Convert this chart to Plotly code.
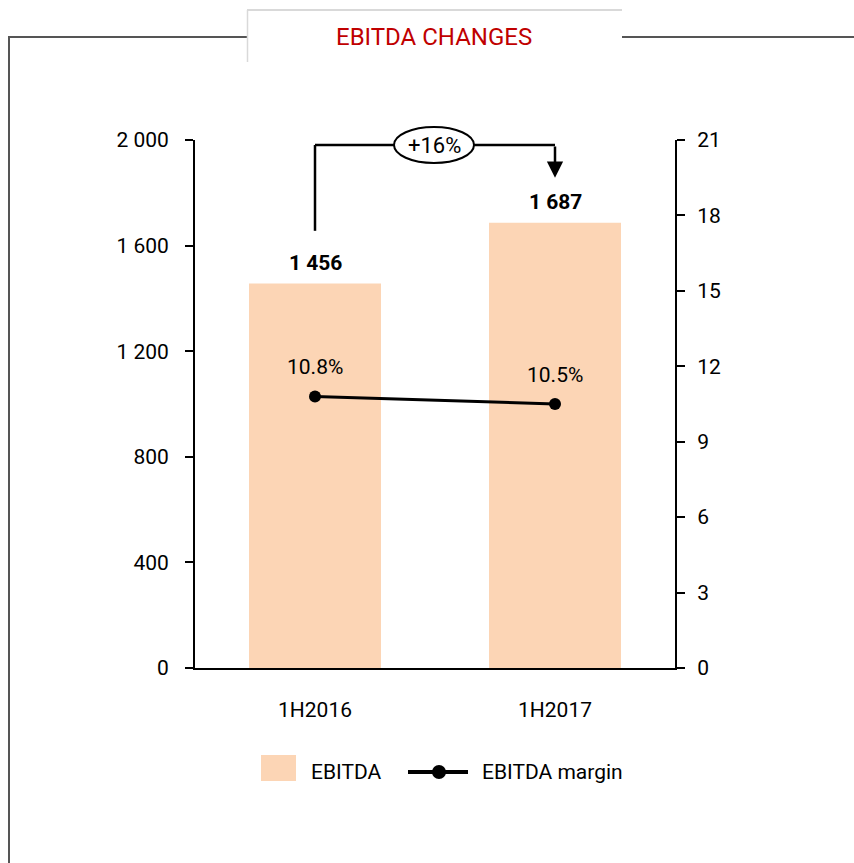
import plotly.graph_objects as go

categories = ["1H2016", "1H2017"]
ebitda = [1456, 1687]
margin = [10.8, 10.5]
change_label = "+16%"
bar_labels = ["1 456", "1 687"]
margin_labels = ["10.8%", "10.5%"]
series_names = ["EBITDA", "EBITDA margin"]
title_text = "EBITDA CHANGES"

FONT = "Roboto, Liberation Sans, sans-serif"
BAR_COLOR = "#fcd5b5"

# figure geometry (pixels)
W, H = 854, 863
L, R, T, B = 195, 179, 140, 195
PW, PH = W - L - R, H - T - B


def px(wx):
    return (wx - L) / PW


def py(wy):
    return (H - B - wy) / PH


fig = go.Figure()
fig.add_trace(go.Bar(
    x=categories, y=ebitda, name=series_names[0],
    marker=dict(color=BAR_COLOR, line=dict(width=0)),
    width=0.55, showlegend=False,
))
fig.add_trace(go.Scatter(
    x=categories, y=margin, name=series_names[1], yaxis="y2",
    mode="lines+markers",
    line=dict(color="black", width=3),
    marker=dict(color="black", size=12),
    showlegend=False,
))

annotations = []
for c, v, t in zip(categories, ebitda, bar_labels):
    annotations.append(dict(x=c, y=v, xref="x", yref="y", text="<b>" + t + "</b>",
                            showarrow=False, yshift=21, yanchor="middle",
                            font=dict(size=21, color="black", family=FONT)))
for c, v, t in zip(categories, margin, margin_labels):
    annotations.append(dict(x=c, y=v, xref="x", yref="y2", text=t,
                            showarrow=False, yshift=29, yanchor="middle",
                            font=dict(size=21, color="black", family=FONT)))

# change bracket
top_y = 1981
shapes = [
    dict(type="line", xref="x", yref="y", x0=0, x1=0, y0=ebitda[0] + 200, y1=top_y,
         line=dict(color="black", width=2.5)),
    dict(type="line", xref="x", yref="y", x0=0, x1=1, y0=top_y, y1=top_y,
         line=dict(color="black", width=2.5)),
    dict(type="circle", xref="paper", yref="paper", x0=px(394), x1=px(474), y0=py(163), y1=py(127),
         fillcolor="white", line=dict(color="black", width=2)),
]
annotations.append(dict(x=1, y=ebitda[1] + 170, xref="x", yref="y",
                        ax=1, ay=top_y, axref="x", ayref="y", text="",
                        showarrow=True, arrowhead=2, arrowsize=1.3, arrowwidth=2.5, arrowcolor="black",
                        standoff=0))
annotations.append(dict(x=px(434), y=py(145), xref="paper", yref="paper", text=change_label,
                        showarrow=False, yanchor="middle", xanchor="center",
                        font=dict(size=22, color="black", family=FONT)))

# frame and title tab
shapes += [
    dict(type="line", xref="paper", yref="paper",
         x0=px(8), x1=px(247), y0=py(37), y1=py(37), line=dict(color="#555555", width=2)),
    dict(type="line", xref="paper", yref="paper",
         x0=px(622), x1=px(W), y0=py(37), y1=py(37), line=dict(color="#555555", width=2)),
    dict(type="line", xref="paper", yref="paper",
         x0=px(9), x1=px(9), y0=py(36), y1=py(H), line=dict(color="#555555", width=2)),
    dict(type="line", xref="paper", yref="paper",
         x0=px(247), x1=px(622), y0=py(10), y1=py(10), line=dict(color="#d9d9d9", width=2)),
    dict(type="line", xref="paper", yref="paper",
         x0=px(247.5), x1=px(247.5), y0=py(10), y1=py(62), line=dict(color="#d9d9d9", width=1.5)),
]
annotations.append(dict(x=px(434), y=py(37), xref="paper", yref="paper",
                        text=title_text, showarrow=False, yanchor="middle", xanchor="center",
                        font=dict(size=24, color="#c00000", family=FONT)))

# legend (drawn)
shapes += [
    dict(type="rect", xref="paper", yref="paper", x0=px(261), x1=px(296), y0=py(781), y1=py(755),
         fillcolor=BAR_COLOR, line=dict(width=0)),
    dict(type="line", xref="paper", yref="paper", x0=px(408), x1=px(468), y0=py(772), y1=py(772),
         line=dict(color="black", width=4)),
    dict(type="circle", xref="paper", yref="paper", x0=px(432), x1=px(446), y0=py(779), y1=py(765),
         fillcolor="black", line=dict(color="black", width=0)),
]
annotations.append(dict(x=px(309), y=py(772), xref="paper", yref="paper", xanchor="left",
                        yanchor="middle", text=series_names[0], showarrow=False,
                        font=dict(size=21, family=FONT)))
annotations.append(dict(x=px(480), y=py(772), xref="paper", yref="paper", xanchor="left",
                        yanchor="middle", text=series_names[1], showarrow=False,
                        font=dict(size=21, family=FONT)))

fig.update_layout(
    width=W, height=H,
    margin=dict(l=L, r=R, t=T, b=B, autoexpand=False),
    paper_bgcolor="white", plot_bgcolor="white",
    separators=". ",
    font=dict(family=FONT, size=20, color="black"),
    showlegend=False,
    hovermode=False,
    xaxis=dict(type="category", range=[-0.5, 1.5], showline=True, linecolor="black", linewidth=2,
               ticks="", ticklabelstandoff=22, showgrid=False, tickfont=dict(size=21)),
    yaxis=dict(range=[0, 2000], tickvals=[0, 400, 800, 1200, 1600, 2000], tickformat=",d",
               showline=True, linecolor="black", linewidth=2, ticks="outside", ticklen=8,
               tickwidth=2, tickcolor="black", showgrid=False, zeroline=False,
               ticklabelstandoff=12, tickfont=dict(size=21)),
    yaxis2=dict(range=[0, 21], tickvals=[0, 3, 6, 9, 12, 15, 18, 21], overlaying="y", side="right",
                showline=True, linecolor="black", linewidth=2, ticks="outside", ticklen=8,
                tickwidth=2, tickcolor="black", showgrid=False, zeroline=False,
                ticklabelstandoff=8, tickfont=dict(size=21)),
    shapes=shapes, annotations=annotations,
)

fig.write_html("out.html", config={"displayModeBar": False},
               post_script="document.body.style.margin='0';")
